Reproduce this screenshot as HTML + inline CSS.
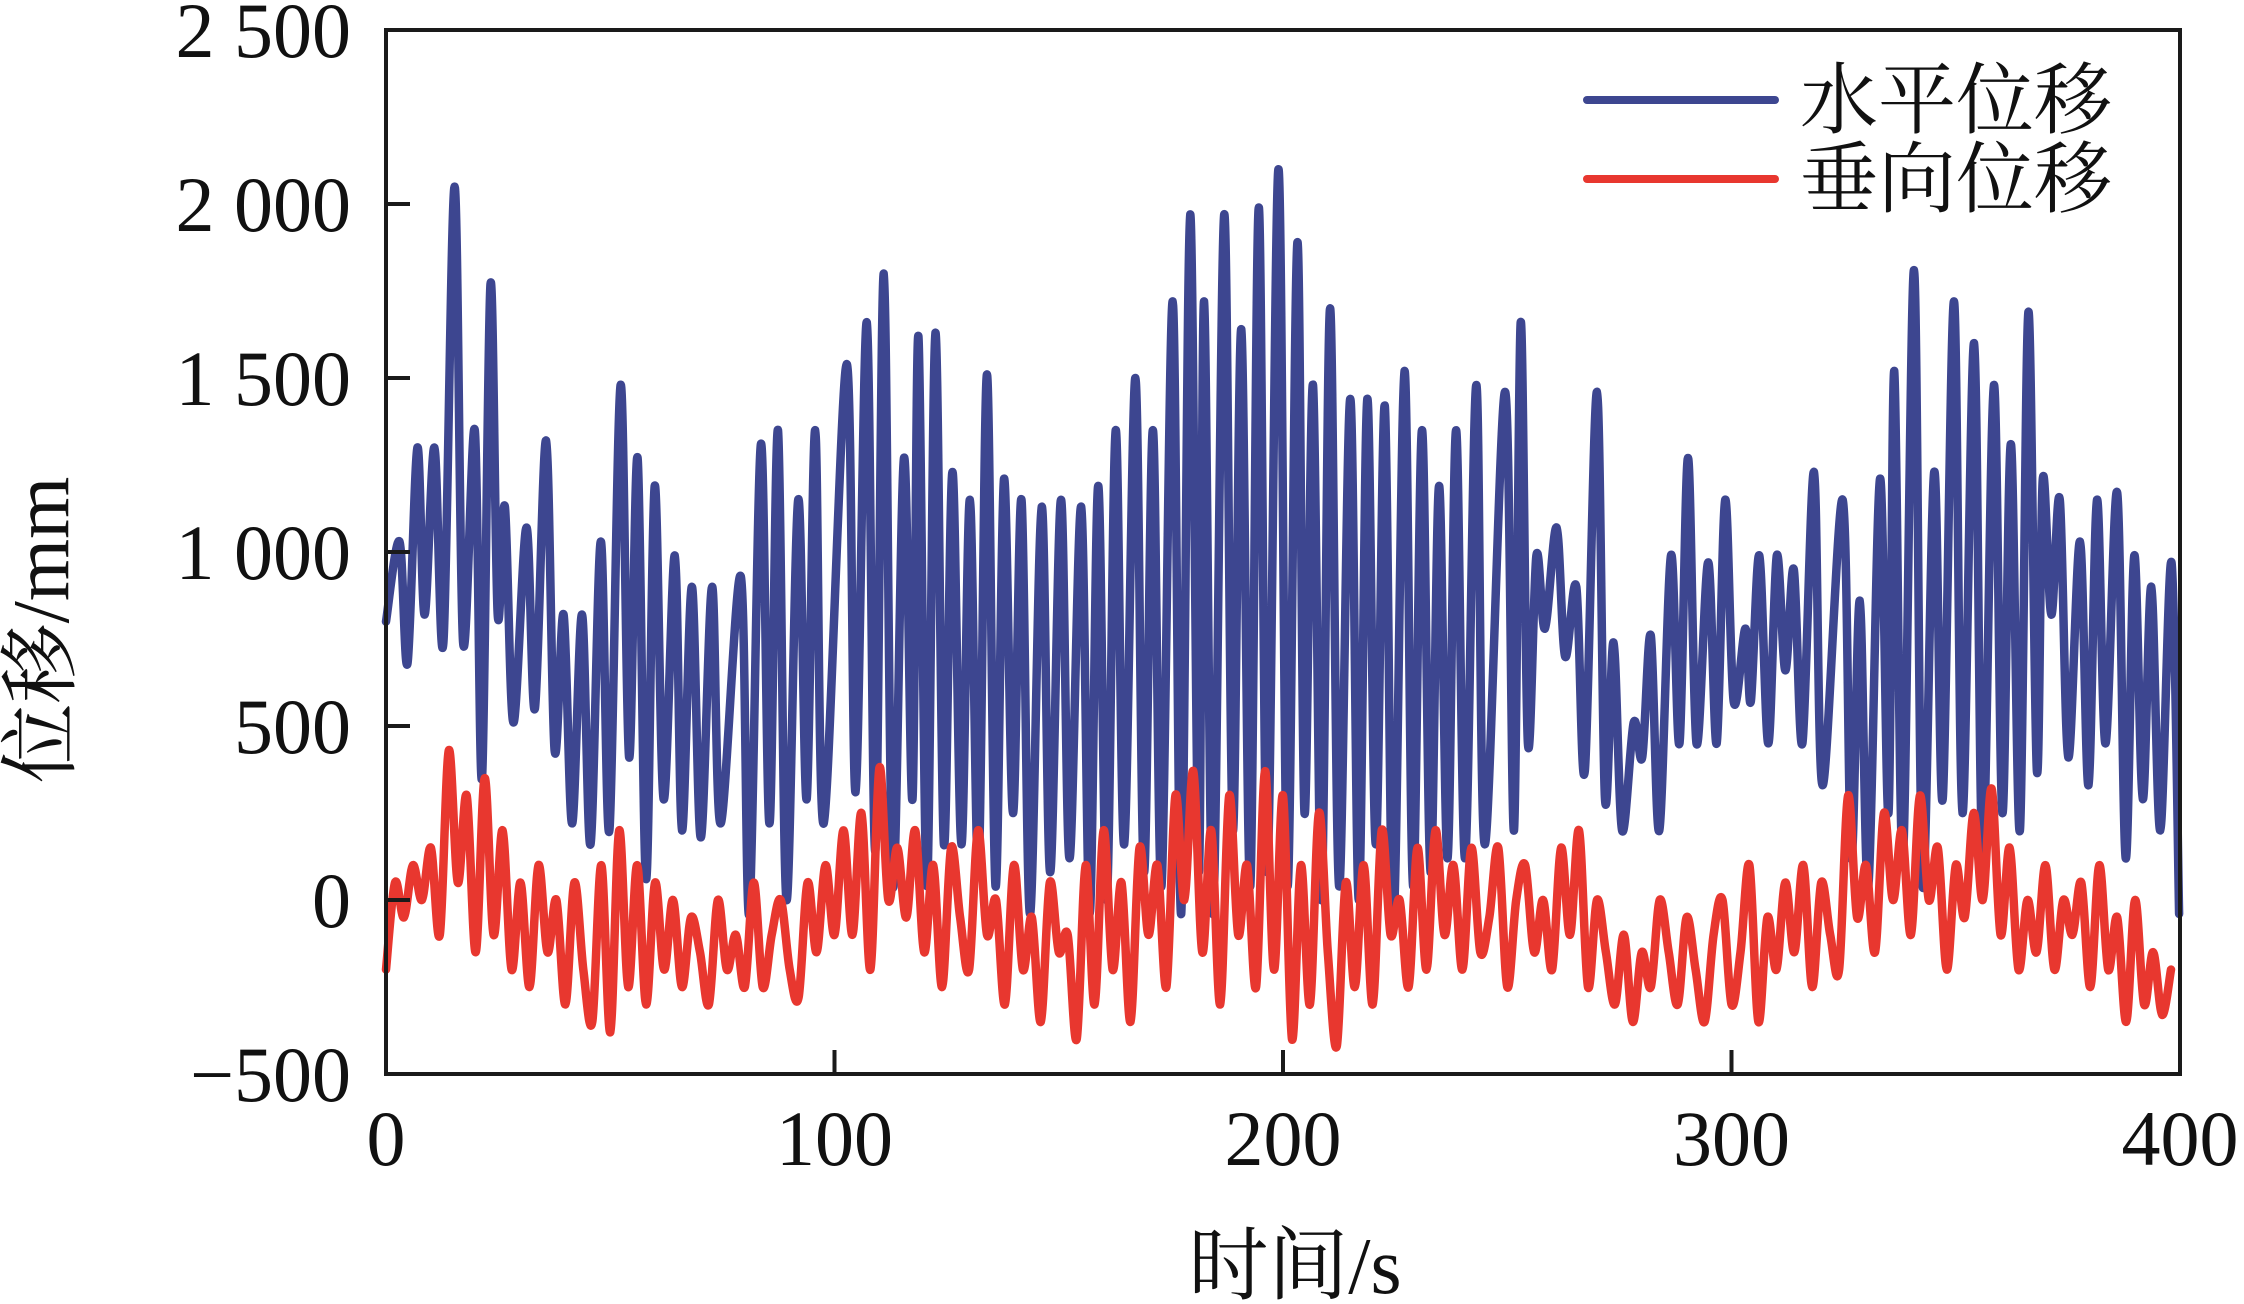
<!DOCTYPE html>
<html><head><meta charset="utf-8">
<style>
html,body{margin:0;padding:0;background:#fff;}
svg{display:block;}
text{font-family:"Liberation Serif","Noto Serif CJK SC",serif;fill:#111;}
</style></head>
<body>
<svg id="chart" width="2244" height="1304" viewBox="0 0 2244 1304" xmlns="http://www.w3.org/2000/svg"></svg>
<script>
const xTicks = [0,100,200,300,400];
const yTicks = [-500,0,500,1000,1500,2000,2500];
const yTickLabels = ["\u2212500","0","500","1 000","1 500","2 000","2 500"];
const seriesNames = ["水平位移","垂向位移"];
const blueT = [0,3,4.8,7,8.6,10.8,12.8,15.3,17.2,19.8,21.4,23.3,24.9,26.5,28.4,31.3,33.2,35.7,37.6,39.6,41.5,43.7,45.6,47.9,49.8,52.3,54.2,56.1,58,59.9,61.9,64.4,66,68.2,70.2,72.7,74.6,79.1,81,83.6,85.5,87.4,89.3,91.9,93.8,95.7,97.6,102.7,104.7,107.2,109.1,111,113,115.5,117.4,118.7,120.6,122.5,124.4,126.3,128.3,130.2,132.1,134,135.9,137.8,139.8,141.7,143.6,146.2,148.1,150.5,152.4,155,156.9,158.8,160.7,162.7,164.6,167.1,169,171,172.9,175.4,177.3,179.3,181.2,182.4,184.4,186.9,188.8,190.7,192.7,194.6,196.5,199,201,203.2,204.8,206.7,208.6,210.5,212.5,215,216.9,218.8,220.7,222.7,224.6,227.1,229,231,232.9,234.8,236.7,238.6,240.6,243.1,245,249.5,251.5,253,254.6,256.5,258.4,261,262.9,265.4,267.3,270,271.8,273.7,275.6,278.2,280.1,282,283.9,286.5,288.4,290.3,292.2,294.8,296.7,298.6,300.5,303.1,304.3,306.2,308.2,310.1,312,313.9,315.8,318.4,320.3,324.8,326.7,328.6,330.5,333.1,335,336.3,338.2,340.7,342.6,345.2,347.1,349.6,351.5,354.1,356,358.5,360.4,362.3,364.3,366.2,368.1,369.4,371.3,373.2,375.1,377.7,379.6,381.5,383.4,386,387.9,389.8,391.7,393.6,395.6,398.1,399.8];
const blueV = [800,1030,680,1300,820,1300,740,2050,740,1350,350,1770,820,1130,510,1070,550,1320,430,820,220,820,160,1030,200,1480,410,1270,60,1190,290,990,200,900,180,900,220,930,-40,1310,220,1350,0,1150,290,1350,220,1540,310,1660,140,1800,40,1270,290,1620,40,1630,160,1230,160,1150,80,1510,40,1210,250,1150,-40,1130,80,1150,120,1130,-40,1190,0,1350,160,1500,80,1350,40,1720,-40,1970,80,1720,-40,1970,200,1640,40,1990,80,2100,40,1890,250,1480,0,1700,40,1440,0,1440,160,1420,-80,1520,40,1350,80,1190,120,1350,120,1480,160,1460,200,1660,450,990,780,1070,700,900,370,1460,290,740,200,510,410,760,200,990,450,1270,450,970,450,1150,570,780,570,990,450,990,660,950,450,1230,330,1150,120,860,40,1210,250,1520,120,1810,40,1230,290,1720,250,1600,120,1480,250,1310,200,1690,370,1210,820,1150,410,1030,330,1150,450,1170,120,990,290,900,200,970,-40];
const redV = [-200,50,-50,100,0,150,-100,
430,50,300,-150,350,-100,200,-200,
50,-250,100,-150,0,-300,50,-200,
-350,100,-380,200,-250,100,-300,50,
-200,0,-250,-50,-150,-300,0,-200,-100,-250,
50,-250,-100,0,-200,-280,50,-150,100,-100,
200,-100,250,-200,380,0,150,-50,
200,-150,100,-250,150,-50,-200,200,-100,0,
-300,100,-200,-50,-350,50,-150,-100,-400,100,
-300,200,-200,50,-350,150,-100,100,-250,300,
0,370,-150,200,-300,300,-100,100,-250,370,-200,300,
-400,100,-300,250,-150,-420,50,-250,
100,-300,200,-100,0,-250,150,-200,200,-100,100,-200,
150,-150,-50,150,-250,0,100,-150,0,-200,
150,-100,200,-250,0,-150,-300,-100,
-350,-150,-250,0,-150,-300,-50,-200,
-350,-100,0,-300,-150,100,-350,-50,-200,50,
-150,100,-250,50,-100,-200,300,-50,100,
-150,250,0,200,-100,300,0,150,-200,100,-50,250,0,320,-100,150,-200,0,
-150,100,-200,0,-100,50,-250,100,-200,-50,
-350,0,-300,-150,-330,-200];
const redStep = 2;

const L=386,R=2180,T=30,B=1074;
const xS=t=>L+(t-0)/(400-0)*(R-L);
const yS=v=>B-(v+500)/(3000)*(B-T);
const NS="http://www.w3.org/2000/svg";
const svg=document.getElementById('chart');
function mk(tag,attrs){const e=document.createElementNS(NS,tag);for(const k in attrs)e.setAttribute(k,attrs[k]);svg.appendChild(e);return e;}
function smooth(pts){
  let d='M'+pts[0][0].toFixed(1)+' '+pts[0][1].toFixed(1);
  for(let i=0;i<pts.length-1;i++){
    const p0=pts[Math.max(0,i-1)],p1=pts[i],p2=pts[i+1],p3=pts[Math.min(pts.length-1,i+2)];
    const c1x=p1[0]+(p2[0]-p0[0])/6,c1y=p1[1]+(p2[1]-p0[1])/6;
    const c2x=p2[0]-(p3[0]-p1[0])/6,c2y=p2[1]-(p3[1]-p1[1])/6;
    d+='C'+c1x.toFixed(1)+' '+c1y.toFixed(1)+' '+c2x.toFixed(1)+' '+c2y.toFixed(1)+' '+p2[0].toFixed(1)+' '+p2[1].toFixed(1);
  }
  return d;
}

const pb=mk('path',{d:smooth(blueT.map((t,i)=>[xS(t),yS(blueV[i])])),fill:'none',stroke:'#3d4690','stroke-width':8.5,'stroke-linejoin':'round','stroke-linecap':'round'});


const pr=mk('path',{d:smooth(redV.map((v,i)=>[xS(i*redStep),yS(v)])),fill:'none',stroke:'#e8372f','stroke-width':8.5,'stroke-linejoin':'round','stroke-linecap':'round'});



const fr=mk('rect',{x:L,y:T,width:R-L,height:B-T,fill:'none',stroke:'#1a1a1a','stroke-width':4});



yTicks.forEach((v,i)=>{
  if(v>-500&&v<2500){const tk=mk('line',{x1:L,x2:L+24,y1:yS(v),y2:yS(v),stroke:'#1a1a1a','stroke-width':4});
  
  }
  const tx=mk('text',{x:351,y:yS(v)+27,'text-anchor':'end','font-size':78});
  tx.textContent=yTickLabels[i];
  
  
});
xTicks.forEach(v=>{
  if(v>0&&v<400){const tk=mk('line',{x1:xS(v),x2:xS(v),y1:B,y2:B-24,stroke:'#1a1a1a','stroke-width':4});
  
  }
  const tx=mk('text',{x:xS(v),y:1165,'text-anchor':'middle','font-size':78});
  tx.textContent=String(v);
  
  
});

const xt=mk('text',{x:1295,y:1293,'text-anchor':'middle','font-size':80});
xt.textContent='时间/s';


const yt=mk('text',{x:0,y:0,'text-anchor':'middle','font-size':80,transform:'translate(68,630) rotate(-90)'});
yt.textContent='位移/mm';



const lc=['#3d4690','#e8372f'];
[100,179].forEach((y,i)=>{
  const ln=mk('line',{x1:1587,x2:1775,y1:y,y2:y,stroke:lc[i],'stroke-width':8,'stroke-linecap':'round'});
  
  
  const tx=mk('text',{x:1800,y:y+27,'font-size':78});
  tx.textContent=seriesNames[i];
  
  
});
</script>
</body></html>
